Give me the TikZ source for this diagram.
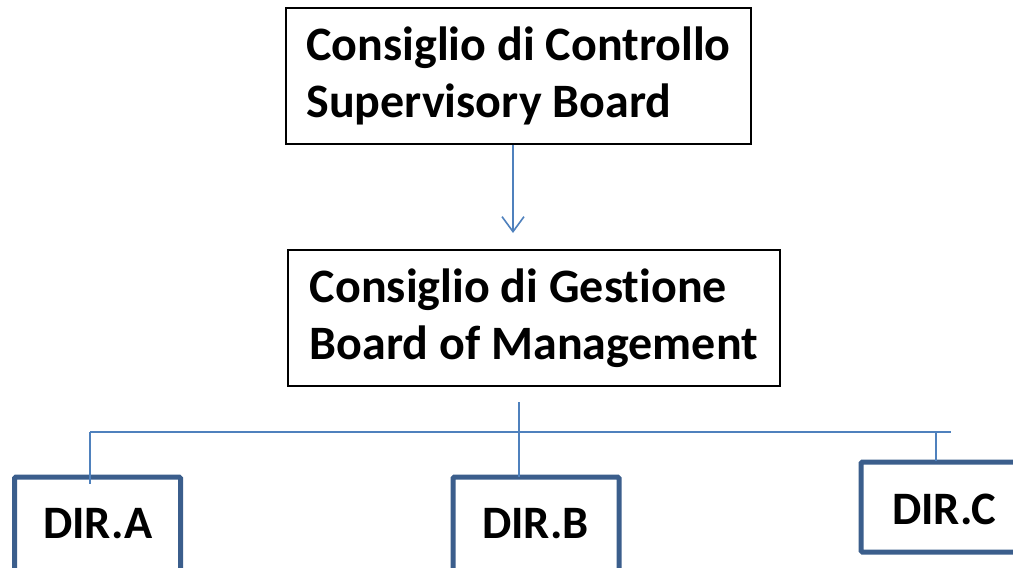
\documentclass[tikz,border=0pt]{standalone}
\usepackage{fontspec}
\setmainfont{Carlito}[Ligatures=CommonOff]
\usetikzlibrary{arrows.meta}
\definecolor{linkblue}{HTML}{4F81BD}
\definecolor{dirframe}{HTML}{3B5E8C}
\tikzset{
  board/.style={draw=black, line width=1.8pt, align=left, inner sep=0pt,
    font=\fontsize{48}{57}\selectfont\bfseries},
  dirbox/.style={draw=dirframe, line width=5pt, rounded corners=1.5pt, inner sep=0pt},
  dirlabel/.style={font=\fontsize{46.5}{50}\selectfont\bfseries, anchor=base west, inner sep=0pt},
  link/.style={draw=linkblue, line width=1.6pt},
}
\begin{document}
\begin{tikzpicture}[x=1pt,y=1pt]
  \clip (0,0) rectangle (1013,-568);
  \fill[white] (0,0) rectangle (1013,-568);

  % governing boards
  \node[board, minimum width=465, minimum height=136] (ctrl) at (518.5,-76)
    {Consiglio di Controllo\\Supervisory Board};
  \node[board, minimum width=492, minimum height=136] (mgmt) at (534,-318)
    {Consiglio di Gestione\\Board of Management};

  % directorates
  \node[dirbox, minimum width=166, minimum height=110] (dira) at (97.5,-532) {};
  \node[dirbox, minimum width=166, minimum height=110] (dirb) at (536,-532) {};
  \node[dirbox, minimum width=166, minimum height=90] (dirc) at (944,-507) {};
  \node[dirlabel] (la) at (43,-538) {DIR.A};
  \node[dirlabel] (lb) at (482,-538) {DIR.B};
  \node[dirlabel] (lc) at (892,-524) {DIR.C};

  % connector points
  \coordinate (arrowend) at (513,-233);
  \coordinate (stem) at (519,-402);
  \coordinate (busL) at (90,-432);
  \coordinate (busR) at (951,-432);
  \coordinate (busC) at (936,-432);
  \coordinate (dropA) at (90,-484);
  \coordinate (dropB) at (519,-477);
  \coordinate (dropC) at (936,-461);

  % connectors
  \draw[link, -{Straight Barb[length=15pt, width=22pt, line width=1.6pt]}]
    (ctrl.south -| arrowend) -- (arrowend);
  \draw[link] (stem) -- (dropB);
  \draw[link] (busL) -- (busR);
  \draw[link] (busL) -- (dropA);
  \draw[link] (busC) -- (dropC);
\end{tikzpicture}
\end{document}
